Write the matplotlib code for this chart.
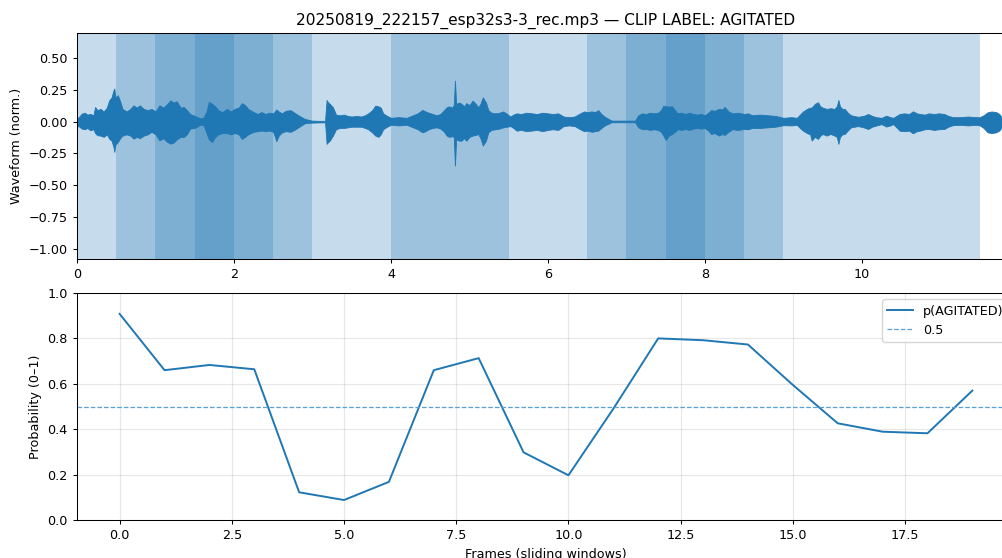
import numpy as np
import matplotlib
matplotlib.use("Agg")
import matplotlib.pyplot as plt

# ---------------- data ----------------
clip_name = "20250819_222157_esp32s3-3_rec.mp3"
clip_label = "AGITATED"
duration_s = 11.95
window_s = 2.0
hop_s = 0.5
threshold = 0.5

# per-frame probability of AGITATED
frames = list(range(20))
p_agitated = [0.908, 0.660, 0.683, 0.664, 0.122, 0.088, 0.168, 0.660, 0.713, 0.298,
              0.197, 0.490, 0.800, 0.792, 0.773, 0.595, 0.426, 0.389, 0.382, 0.570]

# waveform envelope (time s, upper, lower)
env_t = [0.00, 0.03, 0.06, 0.10, 0.13, 0.17, 0.21, 0.23, 0.26, 0.30, 0.34, 0.38, 0.41, 0.44,
         0.465, 0.475, 0.49, 0.52, 0.55, 0.58, 0.63, 0.68, 0.72, 0.76, 0.80, 0.85, 0.90, 0.95,
         1.00, 1.05, 1.10, 1.15, 1.19, 1.23, 1.27, 1.32, 1.36, 1.40, 1.44, 1.50, 1.57, 1.61,
         1.65, 1.68, 1.72, 1.76, 1.80, 1.85, 1.91, 1.96, 2.01, 2.06, 2.10, 2.14, 2.18, 2.25,
         2.30, 2.35, 2.40, 2.45, 2.50, 2.54, 2.57, 2.61, 2.66, 2.72, 2.77, 2.82, 2.90, 2.99,
         3.10, 3.16, 3.18, 3.20, 3.22, 3.26, 3.30, 3.35, 3.40, 3.45, 3.50, 3.56, 3.62, 3.67,
         3.71, 3.76, 3.80, 3.84, 3.87, 3.90, 3.95, 4.00, 4.10, 4.20, 4.28, 4.34, 4.40, 4.44,
         4.48, 4.53, 4.58, 4.63, 4.67, 4.71, 4.74, 4.78, 4.80, 4.815, 4.83, 4.87, 4.90, 4.93,
         4.96, 5.00, 5.04, 5.08, 5.11, 5.14, 5.17, 5.21, 5.24, 5.28, 5.33, 5.38, 5.43, 5.48,
         5.52, 5.56, 5.60, 5.66, 5.72, 5.80, 5.86, 5.93, 6.00, 6.06, 6.13, 6.20, 6.27, 6.34,
         6.41, 6.46, 6.50, 6.56, 6.60, 6.64, 6.68, 6.72, 6.81, 7.11, 7.15, 7.20, 7.25, 7.30,
         7.35, 7.40, 7.44, 7.47, 7.50, 7.54, 7.58, 7.62, 7.65, 7.70, 7.75, 7.80, 7.85, 7.90,
         7.95, 8.00, 8.04, 8.08, 8.12, 8.18, 8.22, 8.25, 8.30, 8.35, 8.42, 8.50, 8.55, 8.60,
         8.70, 8.80, 8.90, 9.00, 9.10, 9.17, 9.21, 9.25, 9.30, 9.34, 9.36, 9.40, 9.44, 9.47,
         9.50, 9.55, 9.60, 9.65, 9.68, 9.70, 9.72, 9.75, 9.78, 9.82, 9.86, 9.95, 10.02, 10.08,
         10.13, 10.18, 10.25, 10.31, 10.36, 10.40, 10.44, 10.48, 10.54, 10.60, 10.65, 10.70,
         10.74, 10.80, 10.85, 10.92, 10.98, 11.05, 11.10, 11.16, 11.25, 11.35, 11.45, 11.50,
         11.55, 11.60, 11.65, 11.71, 11.75, 11.78, 11.85, 11.95]
env_top = [0.024, 0.040, 0.063, 0.070, 0.055, 0.060, 0.050, 0.115, 0.090, 0.100, 0.080, 0.110, 0.167, 0.190,
           0.246, 0.260, 0.190, 0.207, 0.160, 0.100, 0.080, 0.100, 0.128, 0.110, 0.128, 0.100, 0.090, 0.100,
           0.080, 0.128, 0.110, 0.140, 0.167, 0.150, 0.160, 0.110, 0.115, 0.090, 0.060, 0.045, 0.025, 0.030,
           0.080, 0.155, 0.140, 0.120, 0.090, 0.075, 0.100, 0.080, 0.100, 0.110, 0.145, 0.130, 0.100, 0.075,
           0.060, 0.075, 0.060, 0.070, 0.065, 0.095, 0.080, 0.065, 0.085, 0.090, 0.070, 0.050, 0.022, 0.008,
           0.006, 0.006, 0.170, 0.150, 0.140, 0.113, 0.055, 0.050, 0.055, 0.045, 0.040, 0.045, 0.040, 0.050,
           0.065, 0.090, 0.126, 0.120, 0.110, 0.065, 0.045, 0.030, 0.035, 0.030, 0.050, 0.065, 0.092, 0.080,
           0.070, 0.060, 0.050, 0.060, 0.086, 0.113, 0.120, 0.110, 0.130, 0.322, 0.140, 0.150, 0.139, 0.120,
           0.145, 0.130, 0.165, 0.140, 0.113, 0.140, 0.191, 0.150, 0.090, 0.070, 0.065, 0.070, 0.080, 0.060,
           0.040, 0.055, 0.065, 0.060, 0.070, 0.065, 0.060, 0.070, 0.065, 0.060, 0.065, 0.040, 0.035, 0.040,
           0.065, 0.080, 0.075, 0.080, 0.075, 0.090, 0.060, 0.040, 0.008, 0.008, 0.050, 0.065, 0.060, 0.070,
           0.065, 0.070, 0.090, 0.125, 0.120, 0.118, 0.120, 0.090, 0.065, 0.070, 0.060, 0.070, 0.060, 0.055,
           0.060, 0.050, 0.070, 0.090, 0.085, 0.100, 0.095, 0.115, 0.080, 0.065, 0.070, 0.060, 0.065, 0.050,
           0.055, 0.050, 0.045, 0.030, 0.035, 0.030, 0.055, 0.080, 0.100, 0.110, 0.110, 0.140, 0.152, 0.120,
           0.110, 0.100, 0.105, 0.100, 0.120, 0.170, 0.120, 0.100, 0.100, 0.070, 0.050, 0.038, 0.045, 0.060,
           0.045, 0.035, 0.030, 0.047, 0.035, 0.030, 0.045, 0.060, 0.065, 0.060, 0.081, 0.065,
           0.060, 0.055, 0.065, 0.060, 0.065, 0.060, 0.045, 0.035, 0.035, 0.040, 0.035, 0.035,
           0.050, 0.073, 0.080, 0.075, 0.060, 0.035, 0.035, 0.030]
env_bot = [-0.030, -0.040, -0.055, -0.060, -0.050, -0.068, -0.060, -0.090, -0.107, -0.110, -0.120, -0.100, -0.134, -0.150,
           -0.200, -0.238, -0.180, -0.160, -0.130, -0.110, -0.100, -0.110, -0.134, -0.120, -0.130, -0.110, -0.100, -0.080,
           -0.100, -0.147, -0.130, -0.160, -0.173, -0.165, -0.140, -0.120, -0.120, -0.100, -0.055, -0.050, -0.025, -0.025,
           -0.090, -0.140, -0.160, -0.120, -0.100, -0.090, -0.090, -0.100, -0.090, -0.100, -0.136, -0.120, -0.100, -0.080,
           -0.075, -0.070, -0.075, -0.070, -0.080, -0.154, -0.110, -0.085, -0.075, -0.080, -0.065, -0.045, -0.013, -0.008,
           -0.006, -0.006, -0.175, -0.160, -0.150, -0.110, -0.060, -0.050, -0.050, -0.045, -0.040, -0.040, -0.040, -0.050,
           -0.060, -0.085, -0.110, -0.120, -0.100, -0.060, -0.040, -0.025, -0.030, -0.025, -0.045, -0.060, -0.084, -0.075,
           -0.060, -0.050, -0.045, -0.055, -0.075, -0.110, -0.120, -0.115, -0.120, -0.346, -0.140, -0.150, -0.149, -0.130,
           -0.150, -0.120, -0.110, -0.105, -0.097, -0.130, -0.188, -0.150, -0.084, -0.065, -0.060, -0.055, -0.045, -0.040,
           -0.035, -0.050, -0.071, -0.065, -0.075, -0.070, -0.065, -0.075, -0.065, -0.060, -0.065, -0.035, -0.030, -0.035,
           -0.060, -0.075, -0.071, -0.080, -0.075, -0.071, -0.050, -0.031, -0.005, -0.005, -0.045, -0.060, -0.058, -0.065,
           -0.060, -0.065, -0.080, -0.110, -0.144, -0.110, -0.097, -0.080, -0.060, -0.065, -0.058, -0.065, -0.055, -0.050,
           -0.055, -0.050, -0.070, -0.097, -0.090, -0.110, -0.097, -0.105, -0.080, -0.060, -0.065, -0.058, -0.060, -0.050,
           -0.050, -0.045, -0.040, -0.028, -0.030, -0.026, -0.050, -0.071, -0.090, -0.100, -0.149, -0.120, -0.136, -0.110,
           -0.097, -0.110, -0.097, -0.110, -0.120, -0.175, -0.120, -0.100, -0.097, -0.070, -0.045, -0.035, -0.045, -0.058,
           -0.040, -0.031, -0.020, -0.039, -0.030, -0.020, -0.045, -0.071, -0.075, -0.071, -0.092, -0.075,
           -0.071, -0.060, -0.058, -0.065, -0.060, -0.058, -0.040, -0.028, -0.025, -0.030, -0.025, -0.030,
           -0.050, -0.084, -0.090, -0.084, -0.070, -0.045, -0.040, -0.030]

# ---------------- figure ----------------
plt.rcParams["font.size"] = 9.2
plt.rcParams["axes.titlesize"] = 11.1
plt.rcParams["axes.linewidth"] = 0.75
plt.rcParams["xtick.major.width"] = 0.75
plt.rcParams["ytick.major.width"] = 0.75
plt.rcParams["xtick.major.size"] = 3.2
plt.rcParams["ytick.major.size"] = 3.2

W, H = 1003, 558
fig = plt.figure(figsize=(W / 100, H / 100), dpi=100)

def ax_rect(left, right, top, bottom):
    return [left / W, 1 - bottom / H, (right - left) / W, (bottom - top) / H]

ax1 = fig.add_axes(ax_rect(77, 1015, 33, 259))
ax2 = fig.add_axes(ax_rect(77, 1015, 293, 520))

# top: waveform + agitated windows shading
for f, p in zip(frames, p_agitated):
    if p >= threshold:
        start = f * hop_s
        ax1.axvspan(start, start + window_s, color="C0", alpha=0.25, lw=0)
ax1.fill_between(env_t, env_bot, env_top, color="C0", lw=0.6, edgecolor="C0")
ax1.set_xlim(0, duration_s)
ax1.set_ylim(-1.079, 0.696)
ax1.set_xticks([0, 2, 4, 6, 8, 10])
ax1.set_yticks([0.5, 0.25, 0.0, -0.25, -0.5, -0.75, -1.0])
ax1.set_ylabel("Waveform (norm.)")
ax1.set_title(f"{clip_name} \u2014 CLIP LABEL: {clip_label}")

# bottom: probability per frame
ax2.plot(frames, p_agitated, color="C0", lw=1.4, label=f"p({clip_label})")
ax2.axhline(threshold, ls="--", lw=0.9, color="#5b9fd3", label=str(threshold))
ax2.set_ylim(0, 1)
ax2.grid(True, alpha=0.3)
ax2.set_xlabel("Frames (sliding windows)")
ax2.set_ylabel("Probability (0\u20131)")
ax2.legend(loc="upper right")

fig.savefig("out.png", dpi=100)
